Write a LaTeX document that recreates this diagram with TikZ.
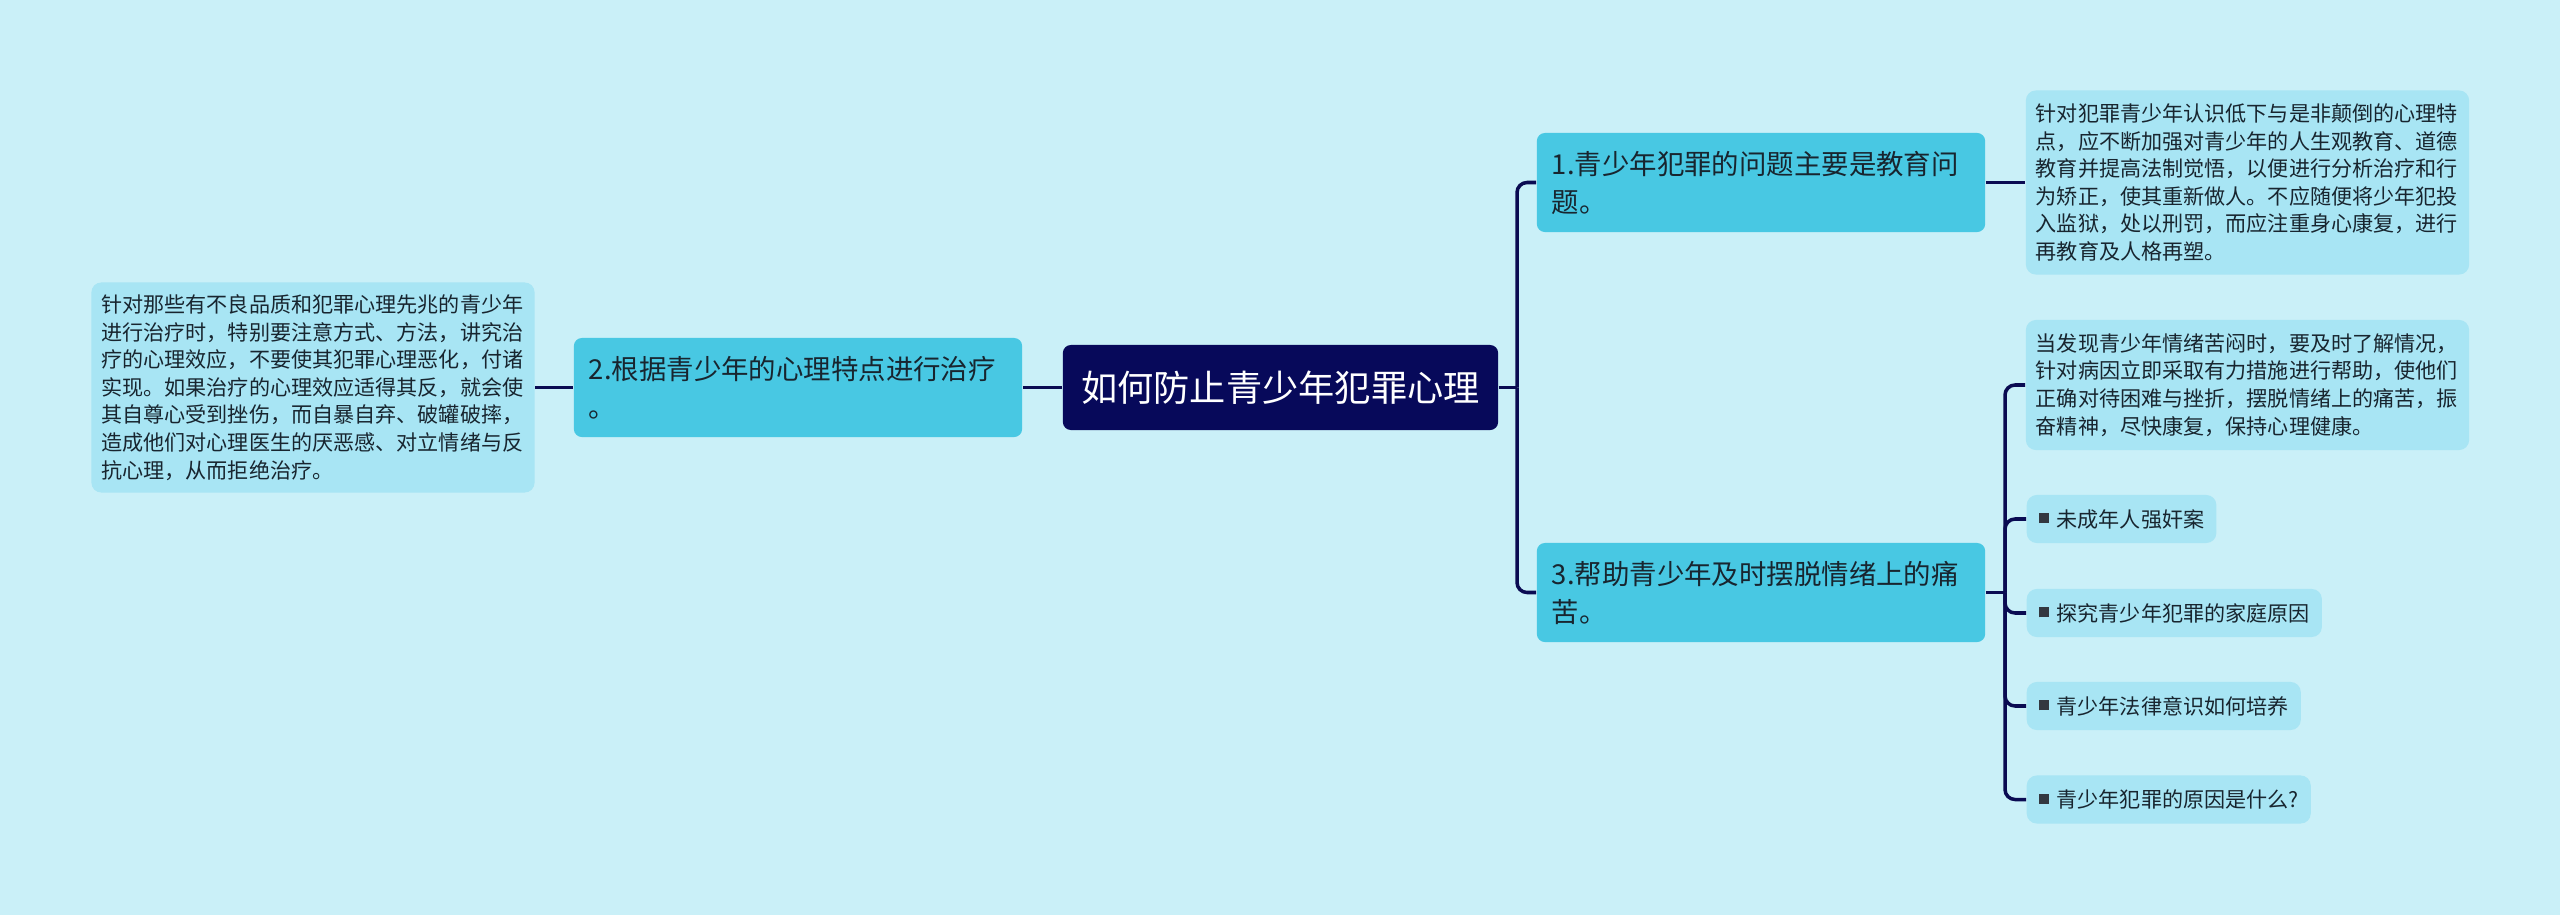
\documentclass[tikz,border=0pt]{standalone}
\usepackage{fontspec}
\setmainfont{Noto Sans CJK SC}
\usepackage{xcolor}
\usepackage{tikz}
\usetikzlibrary{positioning, calc}
\definecolor{bgblue}{HTML}{CAF0F8}
\definecolor{rootnavy}{HTML}{07095A}
\definecolor{topiccyan}{HTML}{48C8E3}
\definecolor{notecyan}{HTML}{A8E5F4}
\definecolor{linknavy}{HTML}{0A0B52}
\definecolor{inktext}{HTML}{18252F}
\definecolor{bulgrey}{HTML}{333840}
\newcommand{\sqbul}{\textcolor{bulgrey}{\rule[0.18em]{2.8pt}{2.8pt}}\hspace{2.3pt}}

\begin{document}
\begin{tikzpicture}[x=0.01cm, y=-0.01cm,
  rootbox/.style={fill=rootnavy, text=white, rounded corners=0.08cm,
                  minimum width=4.35cm, minimum height=0.85cm, inner sep=0pt,
                  font=\fontsize{10.3pt}{12pt}\selectfont},
  topicbox/.style={fill=topiccyan, text=inktext, rounded corners=0.08cm,
                   minimum height=0.99cm, inner xsep=0.15cm, inner ysep=0pt,
                   text width=4.18cm, align=left,
                   font=\fontsize{7.8pt}{10.8pt}\selectfont},
  notebox/.style={fill=notecyan, text=inktext, rounded corners=0.1cm,
                  inner xsep=0.1cm, inner ysep=0pt, text width=4.23cm, align=left,
                  font=\fontsize{6pt}{7.85pt}\selectfont},
  tagbox/.style={fill=notecyan, text=inktext, rounded corners=0.1cm, anchor=west,
                 minimum height=0.48cm, inner xsep=0.12cm, inner ysep=0pt,
                 font=\fontsize{6pt}{7.85pt}\selectfont},
  link/.style={draw=linknavy, line width=1pt},
  branch/.style={link, rounded corners=0.1cm}
]
  \fill[bgblue] (0,0) rectangle (2560,915);
  \useasboundingbox (0,0) rectangle (2560,915);

  % centre and main topics
  \node[rootbox] (root) at (1280.5, 387.5) {如何防止青少年犯罪心理};
  \node[topicbox] (t2) at (798, 387.5) {2.根据青少年的心理特点进行治疗\\。};
  \node[topicbox] (t1) at (1761, 182.5) {1.青少年犯罪的问题主要是教育问\\题。};
  \node[topicbox] (t3) at (1761, 592.5) {3.帮助青少年及时摆脱情绪上的痛\\苦。};

  % notes
  \node[notebox, minimum height=2.10cm] (n2) at (313, 387.5) {针对那些有不良品质和犯罪心理先兆的青少年\\进行治疗时，特别要注意方式、方法，讲究治\\疗的心理效应，不要使其犯罪心理恶化，付诸\\实现。如果治疗的心理效应适得其反，就会使\\其自尊心受到挫伤，而自暴自弃、破罐破摔，\\造成他们对心理医生的厌恶感、对立情绪与反\\抗心理，从而拒绝治疗。};
  \node[notebox, minimum height=1.84cm] (n1) at (2247.5, 182.5) {针对犯罪青少年认识低下与是非颠倒的心理特\\点，应不断加强对青少年的人生观教育、道德\\教育并提高法制觉悟，以便进行分析治疗和行\\为矫正，使其重新做人。不应随便将少年犯投\\入监狱，处以刑罚，而应注重身心康复，进行\\再教育及人格再塑。};
  \node[notebox, minimum height=1.30cm] (n3) at (2247.5, 385) {当发现青少年情绪苦闷时，要及时了解情况，\\针对病因立即采取有力措施进行帮助，使他们\\正确对待困难与挫折，摆脱情绪上的痛苦，振\\奋精神，尽快康复，保持心理健康。};

  % related topics
  \node[tagbox] (r1) at (2026, 519) {\sqbul 未成年人强奸案};
  \node[tagbox] (r2) at (2026, 613) {\sqbul 探究青少年犯罪的家庭原因};
  \node[tagbox] (r3) at (2026, 706) {\sqbul 青少年法律意识如何培养};
  \node[tagbox] (r4) at (2026, 799.5) {\sqbul 青少年犯罪的原因是什么?};

  \coordinate (fork1) at (1517, 387.5);
  \coordinate (fork3) at (2005, 592.5);

  \draw[link] (root.west) -- (t2.east);
  \draw[link] (t2.west) -- (n2.east);
  \draw[link] (root.east) -- (fork1);
  \draw[branch] (fork1) |- (t1.west);
  \draw[branch] (fork1) |- (t3.west);
  \draw[link] (t1.east) -- (n1.west);
  \draw[link] (t3.east) -- (fork3);
  \draw[branch] (fork3) |- (n3.west);
  \draw[branch] (fork3) |- (r1.west);
  \draw[branch] (fork3) |- (r2.west);
  \draw[branch] (fork3) |- (r3.west);
  \draw[branch] (fork3) |- (r4.west);
\end{tikzpicture}
\end{document}
